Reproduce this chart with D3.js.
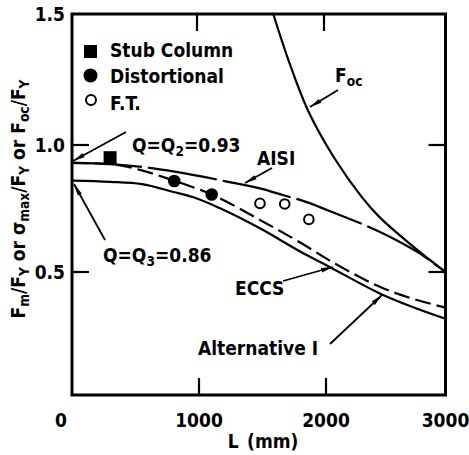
<!DOCTYPE html>
<html>
<head>
<meta charset="utf-8">
<script src="https://cdn.jsdelivr.net/npm/d3@7/dist/d3.min.js"></script>
<style>
  html, body { margin: 0; padding: 0; background: #fff; }
  svg { display: block; }
  text { font-family: "DejaVu Sans Condensed", "DejaVu Sans", sans-serif; fill: #000; }
</style>
</head>
<body>
<svg id="chart" width="469" height="455"></svg>
<script>
// Axis ticks
const xTicks = [0, 1000, 2000, 3000];
const xTickLabels = ["0", "1000", "2000", "3000"];
const yTicks = [0.5, 1.0, 1.5];
const yTickLabels = ["0.5", "1.0", "1.5"];

// Design curves: column length L (mm) and strength ratio
const aisiL = [0, 300, 640, 900, 1220, 1480, 1680, 1820, 2030, 2370, 2590, 2760, 3000];
const aisiV = [0.93, 0.925, 0.908, 0.887, 0.856, 0.829, 0.80, 0.78, 0.74, 0.675, 0.625, 0.58, 0.50];

const eccsL = [0, 300, 550, 800, 1100, 1480, 1800, 2050, 2450, 3000];
const eccsV = [0.93, 0.925, 0.90, 0.860, 0.805, 0.705, 0.615, 0.54, 0.44, 0.355];

const altL = [0, 300, 550, 800, 950, 1170, 1480, 1800, 2030, 2450, 3000];
const altV = [0.86, 0.855, 0.846, 0.815, 0.795, 0.75, 0.672, 0.58, 0.52, 0.413, 0.31];

const focL = [1585, 1700, 1860, 2075, 2300, 2450, 2730, 3000];
const focV = [1.5, 1.33, 1.13, 0.945, 0.795, 0.715, 0.60, 0.50];

// Test results
const stubL = [300];
const stubV = [0.95];
const distL = [805, 1100];
const distV = [0.858, 0.805];
const ftL = [1480, 1675, 1865];
const ftV = [0.77, 0.768, 0.707];

const svg = d3.select("#chart");

// Piecewise scales follow the drawn tick spacing
const x = d3.scaleLinear().domain(xTicks).range([72, 199, 326, 445.5]);
const y = d3.scaleLinear().domain([0, 0.5, 1.0, 1.5]).range([395, 272, 145, 14]);

const zip = (a, b) => a.map((v, i) => [v, b[i]]);
const line = d3.line().x(d => x(d[0])).y(d => y(d[1])).curve(d3.curveMonotoneX);
const smooth = d3.line().x(d => x(d[0])).y(d => y(d[1])).curve(d3.curveCatmullRom.alpha(0.5));

// arrowhead used by the annotation leaders
svg.append("defs").append("marker")
  .attr("id", "arrow")
  .attr("viewBox", "0 -3 12 6")
  .attr("refX", 12).attr("refY", 0)
  .attr("markerWidth", 12).attr("markerHeight", 6)
  .attr("markerUnits", "userSpaceOnUse")
  .attr("orient", "auto")
  .append("path").attr("d", "M0,-2.3L12,0L0,2.3Z").attr("fill", "#000");

// frame
const [x0, x1] = [x(0), x(3000)];
const [yb, yt] = [y(0), y(1.5)];
svg.append("rect")
  .attr("x", x0).attr("y", yt).attr("width", x1 - x0).attr("height", yb - yt)
  .attr("fill", "none").attr("stroke", "#000").attr("stroke-width", 3);

// inward ticks on all four sides
const tickLen = 17;
const innerX = xTicks.slice(1, 3);
const innerY = yTicks.slice(0, 2);
const tk = svg.append("g").attr("stroke", "#000").attr("stroke-width", 2.2);
innerX.forEach(v => {
  tk.append("line").attr("x1", x(v)).attr("x2", x(v)).attr("y1", yb).attr("y2", yb - tickLen);
  tk.append("line").attr("x1", x(v) - 2).attr("x2", x(v) - 2).attr("y1", yt).attr("y2", yt + tickLen);
});
innerY.forEach(v => {
  tk.append("line").attr("x1", x0).attr("x2", x0 + tickLen).attr("y1", y(v)).attr("y2", y(v));
  tk.append("line").attr("x1", x1).attr("x2", x1 - tickLen).attr("y1", y(v)).attr("y2", y(v));
});

// tick labels
const fs = 19;
xTicks.forEach((v, i) => {
  svg.append("text")
    .attr("x", x(v) + (i === 0 ? -11 : 0)).attr("y", 427)
    .attr("text-anchor", "middle").attr("font-size", fs).attr("font-weight", "bold")
    .text(xTickLabels[i]);
});
yTicks.forEach((v, i) => {
  svg.append("text")
    .attr("x", 65).attr("y", y(v) + 7)
    .attr("text-anchor", "end").attr("font-size", fs).attr("font-weight", "bold")
    .text(yTickLabels[i]);
});

// rich text helper: parts with optional subscripts
function rich(g, parts, size) {
  const t = g.append("text").attr("font-size", size).attr("font-weight", "bold");
  parts.forEach(p => {
    const s = t.append("tspan").text(p.t);
    if (p.sub) s.attr("font-size", size * 0.72).attr("baseline-shift", "-28%");
  });
  return t;
}

// axis titles
rich(svg, [{t: "L\u2002(mm)"}], fs).attr("x", 263).attr("y", 448).attr("text-anchor", "middle");
rich(svg, [
  {t: "F"}, {t: "m", sub: true}, {t: "/F"}, {t: "Y", sub: true},
  {t: " or \u03C3"}, {t: "max", sub: true}, {t: "/F"}, {t: "Y", sub: true},
  {t: " or F"}, {t: "oc", sub: true}, {t: "/F"}, {t: "Y", sub: true}
], fs).attr("text-anchor", "middle")
  .attr("transform", "translate(25,199) rotate(-90)");

// curves
const curves = svg.append("g").attr("fill", "none").attr("stroke", "#000").attr("stroke-width", 2.2);
curves.append("path").datum(zip(altL, altV)).attr("d", line);
curves.append("path").datum(zip(eccsL, eccsV)).attr("d", line).attr("stroke-dasharray", "16,6");
curves.append("path").datum(zip(aisiL, aisiV)).attr("d", line).attr("stroke-dasharray", "70,6");
curves.append("path").datum(zip(focL, focV)).attr("d", smooth);

// test points
svg.append("g").selectAll("rect").data(zip(stubL, stubV)).join("rect")
  .attr("x", d => x(d[0]) - 6.5).attr("y", d => y(d[1]) - 6.5)
  .attr("width", 13).attr("height", 13).attr("fill", "#000");
svg.append("g").selectAll("circle").data(zip(distL, distV)).join("circle")
  .attr("cx", d => x(d[0])).attr("cy", d => y(d[1])).attr("r", 6.3).attr("fill", "#000");
svg.append("g").selectAll("circle").data(zip(ftL, ftV)).join("circle")
  .attr("cx", d => x(d[0])).attr("cy", d => y(d[1])).attr("r", 4.8)
  .attr("fill", "#fff").attr("stroke", "#000").attr("stroke-width", 2);

// legend
const lg = svg.append("g");
lg.append("rect").attr("x", 84).attr("y", 45).attr("width", 13).attr("height", 13).attr("fill", "#000");
lg.append("circle").attr("cx", 90.5).attr("cy", 75.5).attr("r", 7).attr("fill", "#000");
lg.append("circle").attr("cx", 91).attr("cy", 100).attr("r", 5).attr("fill", "#fff")
  .attr("stroke", "#000").attr("stroke-width", 2);
rich(lg, [{t: "Stub Column"}], fs).attr("x", 110).attr("y", 57);
rich(lg, [{t: "Distortional"}], fs).attr("x", 110).attr("y", 83);
rich(lg, [{t: "F.T."}], fs).attr("x", 110).attr("y", 110);

// annotations with leaders
const notes = [
  {parts: [{t: "Q=Q"}, {t: "2", sub: true}, {t: "=0.93"}], tx: 132, ty: 152, from: [126, 132], to: [73, 161]},
  {parts: [{t: "Q=Q"}, {t: "3", sub: true}, {t: "=0.86"}], tx: 103, ty: 262, from: [105, 240], to: [74, 184]},
  {parts: [{t: "F"}, {t: "oc", sub: true}], tx: 335, ty: 82, from: [338, 90], to: [310, 107]},
  {parts: [{t: "AISI"}], tx: 257, ty: 165, from: [272, 168], to: [245, 183]},
  {parts: [{t: "ECCS"}], tx: 235, ty: 295, from: [283, 281], to: [333, 267]},
  {parts: [{t: "Alternative I"}], tx: 198, ty: 355, from: [330, 344], to: [382, 295]}
];
const an = svg.append("g");
notes.forEach(n => {
  rich(an, n.parts, fs).attr("x", n.tx).attr("y", n.ty);
  an.append("line")
    .attr("x1", n.from[0]).attr("y1", n.from[1]).attr("x2", n.to[0]).attr("y2", n.to[1])
    .attr("stroke", "#000").attr("stroke-width", 1.8).attr("marker-end", "url(#arrow)");
});
</script>
</body>
</html>
